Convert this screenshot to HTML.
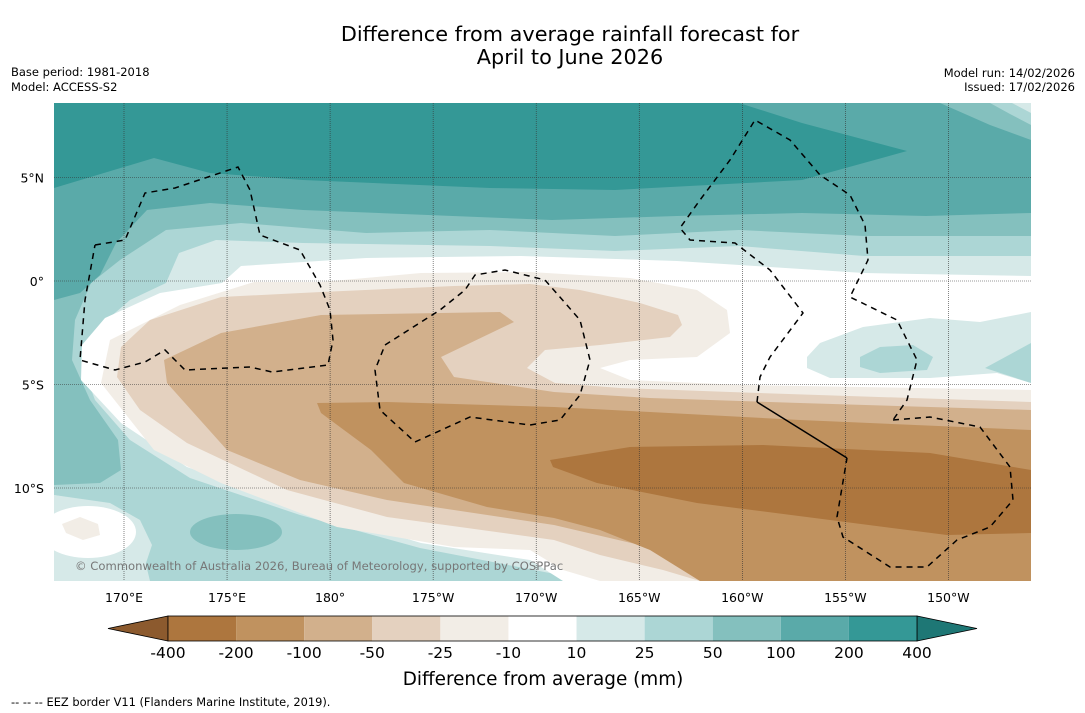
<!DOCTYPE html>
<html><head><meta charset="utf-8"><style>
body{margin:0;background:#fff;width:1085px;height:713px;overflow:hidden;font-family:"DejaVu Sans","Liberation Sans",sans-serif}
svg{display:block}
</style></head><body>
<svg id="root" width="1085" height="713" viewBox="0 0 1085 713" xmlns="http://www.w3.org/2000/svg" font-family="DejaVu Sans, Liberation Sans, sans-serif">
<text x="570" y="41" text-anchor="middle" font-size="20.8" fill="#000">Difference from average rainfall forecast for</text>
<text x="570" y="64" text-anchor="middle" font-size="20.8" fill="#000">April to June 2026</text>
<text x="11" y="76" font-size="11.5">Base period: 1981-2018</text>
<text x="11" y="91" font-size="11.5">Model: ACCESS-S2</text>
<text x="1075" y="77" font-size="11.5" text-anchor="end">Model run: 14/02/2026</text>
<text x="1075" y="91" font-size="11.5" text-anchor="end">Issued: 17/02/2026</text>
<defs><clipPath id="mapclip"><rect x="54" y="103" width="977" height="478"/></clipPath></defs>
<g clip-path="url(#mapclip)">
<rect x="54" y="103" width="977" height="478" fill="#d6e9e8"/>
<polygon fill="#acd6d5" points="54,103 1031,103 1031,256 864,256 739,246 615,251 490,246 303,243 216,240 179,253 166,283 130,300 95,330 82,365 95,400 130,440 190,478 300,515 420,548 560,575 570,581 150,581 140,540 110,505 54,495"/>
<polygon fill="#84c0be" points="54,103 1031,103 1031,236 864,236 739,230 615,236 490,230 366,233 241,223 166,230 120,260 91,283 75,320 72,360 90,400 118,440 121,470 100,483 54,485"/>
<polygon fill="#5aaaa9" points="54,103 1031,103 1031,213 926,216 802,213 677,216 552,220 428,215 303,210 210,203 147,210 116,243 100,275 80,293 54,300"/>
<polygon fill="#349896" points="54,103 739,103 802,123 907,151 802,180 615,190 490,188 303,180 210,173 154,158 54,188"/>
<polygon fill="#84c0be" points="940,103 1031,103 1031,140 990,125"/>
<polygon fill="#acd6d5" points="990,103 1031,103 1031,125 1010,114"/>
<polygon fill="#d6e9e8" points="1012,103 1031,103 1031,113"/>
<polygon fill="#ffffff" points="1031,276 864,273 677,261 521,256 366,258 241,266 222,283 160,293 105,318 82,345 81,380 121,423 187,467 321,513 421,543 530,560 563,581 1031,581"/>
<polygon fill="#f2ede6" points="1031,390 743,385 630,380 600,368 630,360 697,357 730,333 727,310 697,290 630,278 530,272 421,273 321,282 254,282 180,305 110,340 101,383 154,450 221,483 337,527 454,547 530,550 563,570 600,581 1031,581"/>
<polygon fill="#e4d1bf" points="1031,402 730,392 620,388 555,383 527,368 545,350 600,345 670,337 682,325 678,315 640,303 580,290 530,284 454,286 321,292 221,297 150,320 121,347 117,377 140,410 187,443 287,490 387,517 554,540 600,555 663,570 700,581 1031,581"/>
<polygon fill="#d2b08c" points="1031,410 800,403 650,398 554,392 454,377 441,357 514,322 500,312 321,315 221,333 164,360 167,383 227,450 300,480 387,500 554,525 640,545 720,565 780,581 1031,581"/>
<polygon fill="#c0925f" points="1031,430 800,420 650,412 554,407 387,402 317,403 321,413 371,450 404,483 487,507 554,518 600,530 650,550 700,581 1031,581"/>
<polygon fill="#ad763e" points="550,460 630,447 763,445 930,453 1031,470 1031,533 947,535 830,520 697,503 597,483 553,467"/>
<polygon fill="#d6e9e8" points="807,357 820,343 863,327 930,318 980,322 1031,312 1031,383 997,373 930,378 830,378 807,368"/>
<polygon fill="#acd6d5" points="860,357 880,347 913,345 933,357 927,370 880,373 860,367"/>
<polygon fill="#acd6d5" points="985,368 1031,343 1031,383"/>
<ellipse cx="236" cy="532" rx="46" ry="18" fill="#84c0be"/>
<polygon fill="#d6e9e8" points="54,495 110,503 140,520 152,545 140,581 54,581"/>
<ellipse cx="88" cy="532" rx="48" ry="26" fill="#fff"/>
<polygon fill="#f2ede6" points="62,524 80,517 98,524 100,535 83,540 66,533"/>
<polygon fill="#acd6d5" points="360,581 400,572 470,570 540,576 560,581"/>
<g id="grid"></g>
<g fill="none" stroke="#000" stroke-width="1.5" stroke-dasharray="6,5">
<polyline points="95,245 125,240 145,193 175,188 238,167 250,190 260,235 300,250 320,285 330,310 333,340 328,365 272,372 250,367 185,370 165,350 145,362 115,370 80,360 85,300 95,245"/>
<polyline points="385,345 440,310 465,290 475,275 505,270 545,280 580,320 590,360 580,395 560,420 530,425 470,417 415,442 380,410 375,370 385,345"/>
<polyline points="757,402 760,377 770,357 803,313 770,270 735,243 690,240 680,228 700,200 730,160 755,120 790,140 820,175 850,195 865,225 868,260 850,297 897,320 917,360 907,400 893,420"/>
<polyline points="893,420 930,417 980,427 1010,467 1013,500 990,527 957,540 927,567 890,567 843,537 837,517 847,458"/>
<polyline stroke-dasharray="none" points="757,402 847,458"/>
</g>
<text x="75" y="570" font-size="11.6" fill="#777">© Commonwealth of Australia 2026, Bureau of Meteorology, supported by COSPPac</text>
</g>
<g id="axes"></g>
<g id="cbar"></g>
<text x="543" y="685" text-anchor="middle" font-size="18.4">Difference from average (mm)</text>
<text x="11" y="706" font-size="11.4">--  --  -- EEZ border V11 (Flanders Marine Institute, 2019).</text>
</svg>
<script>
const lonTicks=[170,175,180,185,190,195,200,205,210];
const lonLabels=["170°E","175°E","180°","175°W","170°W","165°W","160°W","155°W","150°W"];
const latTicks=[5,0,-5,-10];
const latLabels=["5°N","0°","5°S","10°S"];
const cbarLevels=["-400","-200","-100","-50","-25","-10","10","25","50","100","200","400"];
const cbarColors=["#ad763e","#c0925f","#d2b08c","#e4d1bf","#f2ede6","#ffffff","#d6e9e8","#acd6d5","#84c0be","#5aaaa9","#349896"];
const cbarLow="#8c5a2e", cbarHigh="#1e7775";
const NS="http://www.w3.org/2000/svg";
function lonX(l){return 124+(l-170)*20.61;}
function latY(l){return 281-l*20.7;}
function mk(t,a,p){const e=document.createElementNS(NS,t);for(const k in a)e.setAttribute(k,a[k]);p.appendChild(e);return e;}
const grid=document.getElementById('grid'),axes=document.getElementById('axes'),cb=document.getElementById('cbar');
lonTicks.forEach((l,i)=>{
  const ln=mk('line',{x1:lonX(l),x2:lonX(l),y1:103,y2:581,stroke:'#333','stroke-width':0.6,'stroke-dasharray':'1,1'},grid);
  
  
  const t=mk('text',{x:lonX(l),y:602,'text-anchor':'middle','font-size':12.5},axes);t.textContent=lonLabels[i];
  
  
});
latTicks.forEach((l,i)=>{
  const ln=mk('line',{x1:54,x2:1031,y1:latY(l),y2:latY(l),stroke:'#333','stroke-width':0.6,'stroke-dasharray':'1,1'},grid);
  
  
  const t=mk('text',{x:44,y:latY(l)+5,'text-anchor':'end','font-size':12.5},axes);t.textContent=latLabels[i];
  
  
});
const cx0=168,cx1=917,cy=616,ch=25,n=cbarColors.length,w=(cx1-cx0)/n;
const lo=mk('polygon',{points:`108,${cy+ch/2} ${cx0},${cy} ${cx0},${cy+ch}`,fill:cbarLow,stroke:'#000','stroke-width':0.8},cb);


const hi=mk('polygon',{points:`977,${cy+ch/2} ${cx1},${cy} ${cx1},${cy+ch}`,fill:cbarHigh,stroke:'#000','stroke-width':0.8},cb);


cbarColors.forEach((c,i)=>{
  const r=mk('rect',{x:cx0+i*w,y:cy,width:w,height:ch,fill:c},cb);
  
  
});
mk('rect',{x:cx0,y:cy,width:cx1-cx0,height:ch,fill:'none',stroke:'#000','stroke-width':0.8},cb);
cbarLevels.forEach((s,i)=>{
  const t=mk('text',{x:cx0+i*w,y:658,'text-anchor':'middle','font-size':15.5},cb);t.textContent=s;
  
  
});
</script>
</body></html>
